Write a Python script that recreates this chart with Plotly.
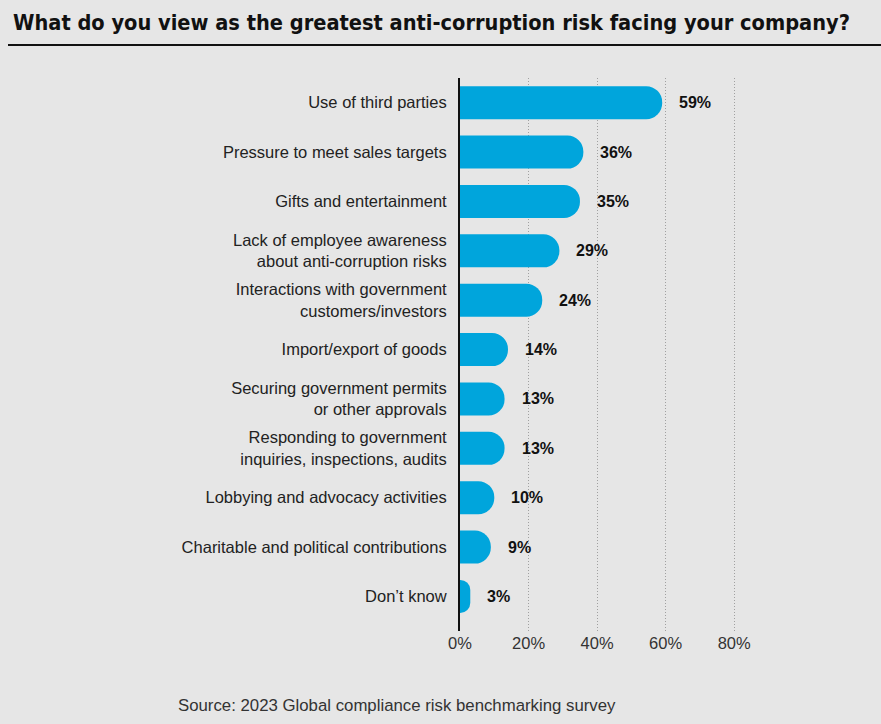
import plotly.graph_objects as go

# survey data, top to bottom as in the report
categories = [
    "Use of third parties",
    "Pressure to meet sales targets",
    "Gifts and entertainment",
    "Lack of employee awareness<br>about anti-corruption risks",
    "Interactions with government<br>customers/investors",
    "Import/export of goods",
    "Securing government permits<br>or other approvals",
    "Responding to government<br>inquiries, inspections, audits",
    "Lobbying and advocacy activities",
    "Charitable and political contributions",
    "Don\u2019t know",
]
values = [59, 36, 35, 29, 24, 14, 13, 13, 10, 9, 3]
tick_vals = [0, 20, 40, 60, 80]
tick_text = ["0%", "20%", "40%", "60%", "80%"]

title = "What do you view as the greatest anti-corruption risk facing your company?"
source = "Source: 2023 Global compliance risk benchmarking survey"

W, H = 881, 724
L, R, T, B = 460, 140, 78, 93
bg = "#e6e6e6"
blue = "#00a5dc"
font = "Liberation Sans, Arial, sans-serif"

fig = go.Figure()
fig.add_trace(go.Bar(
    x=values,
    y=categories,
    orientation="h",
    width=0.67,
    marker=dict(color=blue, cornerradius="50%", line=dict(width=0)),
    hoverinfo="skip",
))

# value labels to the right of each bar
for c, v in zip(categories, values):
    fig.add_annotation(x=v, y=c, text="<b>%d%%</b>" % v, xanchor="left", yanchor="middle",
                       xshift=15, showarrow=False,
                       font=dict(family=font, size=16, color="#111"))

fig.add_annotation(text=source, xref="paper", yref="paper",
                   x=(176 - L) / (W - L - R), y=-(705 - (H - B)) / (H - T - B),
                   xanchor="left", yanchor="middle", showarrow=False,
                   font=dict(family=font, size=16.8, color="#333"))

# rule under the title
fig.add_shape(type="line", xref="paper", yref="paper",
              x0=(8 - L) / (W - L - R), x1=(W - L) / (W - L - R),
              y0=1 + (T - 45) / (H - T - B), y1=1 + (T - 45) / (H - T - B),
              line=dict(color="#111", width=2))

fig.update_layout(
    width=W, height=H,
    margin=dict(l=L, r=R, t=T, b=B),
    paper_bgcolor=bg, plot_bgcolor=bg,
    showlegend=False,
    title=dict(text="<b>" + title + "</b>", x=13 / W, xanchor="left",
               y=1 - 22 / H, yanchor="middle",
               font=dict(family="Liberation Sans Narrow, DejaVu Sans Condensed, sans-serif",
                         size=21.6, color="#111")),
    xaxis=dict(range=[0, 82], tickvals=tick_vals, ticktext=tick_text,
               showgrid=True, gridcolor="#a0a0a0", griddash="1px,2px", gridwidth=1,
               zeroline=False, showline=False, ticks="",
               tickfont=dict(family=font, size=16.5, color="#333")),
    yaxis=dict(categoryorder="array", categoryarray=categories,
               range=[10.7, -0.5], showgrid=False, zeroline=False,
               showline=True, linecolor="#111", linewidth=2, ticks="",
               ticklabelstandoff=8,
               tickfont=dict(family=font, size=16.5, color="#222")),
)

fig.write_html("out.html", config={"displayModeBar": False},
               post_script="document.body.style.margin='0';")
